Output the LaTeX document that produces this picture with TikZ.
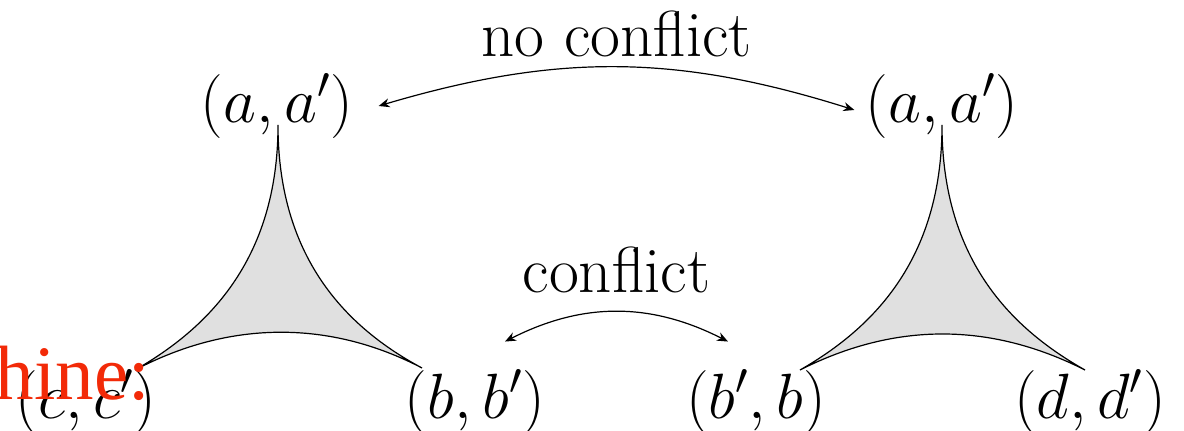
\RequirePackage{fix-cm}
\documentclass[tikz,border=0pt]{standalone}
\usepackage{fontspec}
\newfontfamily\redserif{Liberation Serif}
\usetikzlibrary{arrows.meta,calc}
\definecolor{trifill}{RGB}{224,224,224}
\definecolor{redtxt}{RGB}{242,42,8}
\tikzset{
  lbl/.style={inner sep=0pt, font=\fontsize{32}{38}\selectfont},
  word/.style={inner sep=0pt, font=\fontsize{32.5}{39}\selectfont},
  tri/.style={draw=black, line width=0.6pt, fill=trifill},
  conn/.style={line width=0.6pt, {Stealth[length=5.5pt,width=4.5pt]}-{Stealth[length=5.5pt,width=4.5pt]}}
}
\begin{document}
\begin{tikzpicture}[x=0.5pt,y=-0.5pt]
\useasboundingbox (0,0) rectangle (1184,431);
% labels
\node[lbl] (aL) at (277,106) {$(a,a')$};
\node[lbl] (aR) at (942,106) {$(a,a')$};
\node[lbl] (cc) at (86,402) {$(c,c')$};
\node[lbl] (bb) at (475,402) {$(b,b')$};
\node[lbl] (bc) at (756,402) {$(b',b)$};
\node[lbl] (dd) at (1090,402) {$(d,d')$};
% left triangle
\coordinate (L1) at (278,125);
\coordinate (L2) at (135,370);
\coordinate (L3) at (422,368);
\path[tri] (L1) .. controls (278,262) and (205,330) .. (L2)
  .. controls (230,320) and (330,320) .. (L3)
  .. controls (351,330) and (278,262) .. (L1) -- cycle;
% right triangle
\coordinate (R1) at (942,125);
\coordinate (R2) at (800,370);
\coordinate (R3) at (1085,370);
\path[tri] (R1) .. controls (942,262) and (870,330) .. (R2)
  .. controls (895,322) and (990,322) .. (R3)
  .. controls (1014,330) and (942,262) .. (R1) -- cycle;
% connectors
\draw[conn] ([xshift=12.5pt]aL.east) to[bend left=17] node[word, above=5pt] (nc) {no conflict} ([xshift=-5.5pt,yshift=-2pt]aR.west);
\draw[conn] ([xshift=15pt,yshift=14pt]bb.north) to[bend left=27] node[word, above=9pt] (cf) {conflict} ([xshift=-14pt,yshift=14pt]bc.north);
% red overlay text
\node[anchor=base east, inner sep=0pt, text=redtxt, font=\redserif\fontsize{38.5}{44}\selectfont] (red) at (150,400) {hine:};
\end{tikzpicture}
\end{document}
